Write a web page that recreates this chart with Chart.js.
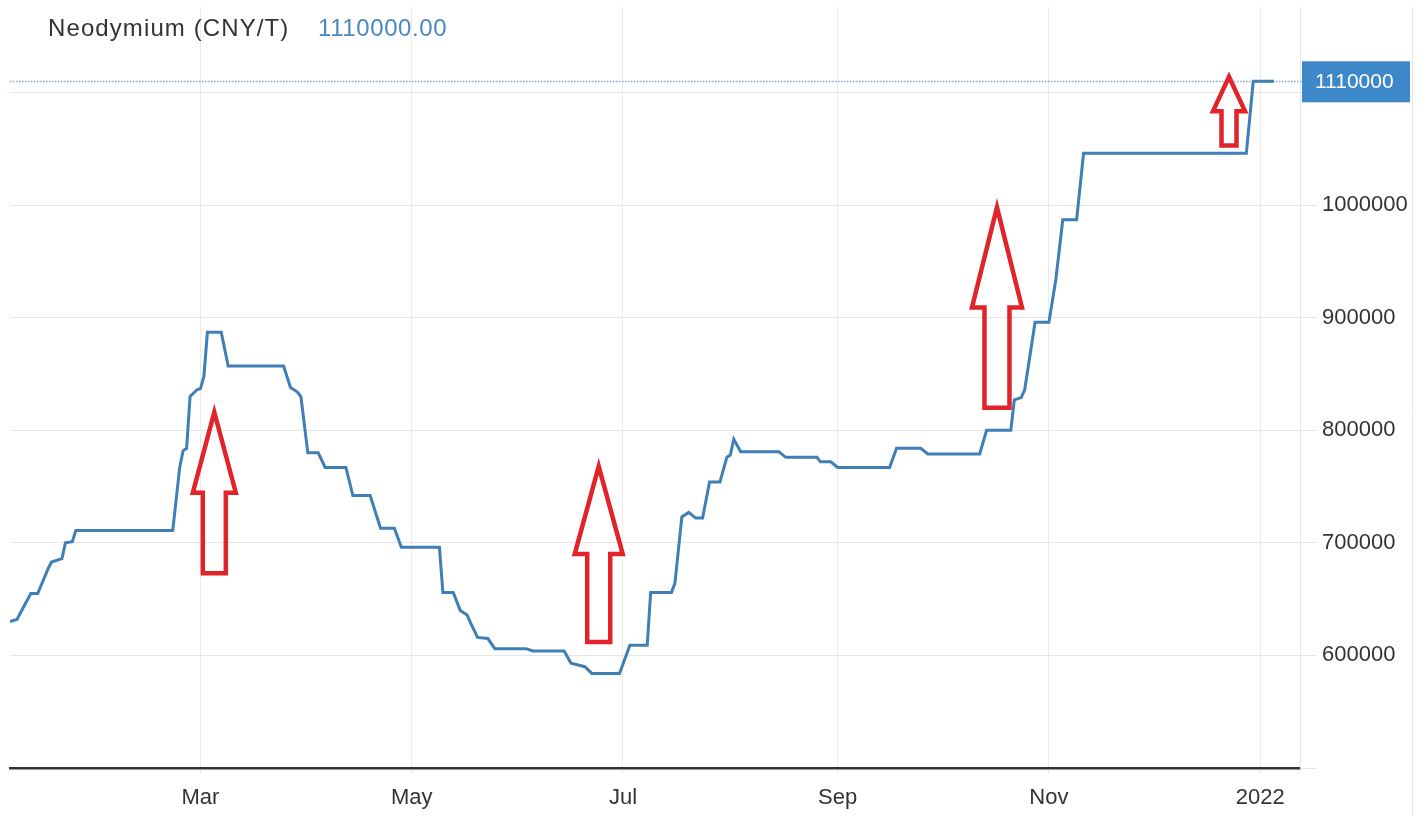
<!DOCTYPE html>
<html>
<head>
<meta charset="utf-8">
<title>Neodymium (CNY/T)</title>
<script src="https://cdn.jsdelivr.net/npm/chart.js@4.4.1/dist/chart.umd.min.js"></script>
<style>
  html, body { margin: 0; padding: 0; background: #fff; }
  #wrap { position: relative; width: 1425px; height: 816px; overflow: hidden; }
  #chart { position: absolute; left: 0; top: 0; }
  .head { position: absolute; top: 16px; font: 24px Arial, "Liberation Sans", sans-serif; line-height: 24px; white-space: nowrap; }
  #name { left: 48px; color: #333; letter-spacing: 1.1px; }
  #last { left: 318px; color: #4a89bf; letter-spacing: 0.6px; }
</style>
</head>
<body>
<div id="wrap">
  <canvas id="chart" width="1425" height="816"></canvas>
  <div class="head" id="name">Neodymium (CNY/T)</div>
  <div class="head" id="last">1110000.00</div>
</div>
<script>
// Neodymium price, CNY/T
const dates = [
  '2021-01-05', '2021-01-07', '2021-01-11', '2021-01-13', '2021-01-16', '2021-01-17',
  '2021-01-20', '2021-01-21', '2021-01-23', '2021-01-24', '2021-02-21', '2021-02-23',
  '2021-02-24', '2021-02-25', '2021-02-26', '2021-02-28', '2021-03-01', '2021-03-02',
  '2021-03-03', '2021-03-07', '2021-03-09', '2021-03-25', '2021-03-27', '2021-03-29',
  '2021-03-30', '2021-04-01', '2021-04-04', '2021-04-06', '2021-04-12', '2021-04-14',
  '2021-04-19', '2021-04-22', '2021-04-26', '2021-04-28', '2021-05-09', '2021-05-10',
  '2021-05-13', '2021-05-15', '2021-05-17', '2021-05-18', '2021-05-20', '2021-05-23',
  '2021-05-25', '2021-06-03', '2021-06-05', '2021-06-14', '2021-06-16', '2021-06-20',
  '2021-06-22', '2021-06-30', '2021-07-03', '2021-07-08', '2021-07-09', '2021-07-15',
  '2021-07-16', '2021-07-18', '2021-07-20', '2021-07-22', '2021-07-24', '2021-07-26',
  '2021-07-29', '2021-07-31', '2021-08-01', '2021-08-02', '2021-08-04', '2021-08-15',
  '2021-08-17', '2021-08-26', '2021-08-27', '2021-08-30', '2021-09-01', '2021-09-16',
  '2021-09-18', '2021-09-25', '2021-09-27', '2021-10-12', '2021-10-14', '2021-10-21',
  '2021-10-22', '2021-10-24', '2021-10-25', '2021-10-28', '2021-11-01', '2021-11-03',
  '2021-11-05', '2021-11-09', '2021-11-11', '2021-12-28', '2021-12-30', '2022-01-05'
];
const prices = [
  630000, 632000, 655000, 655000, 677000, 683000,
  686000, 700000, 701000, 711000, 711000, 767000,
  782000, 784000, 830000, 836000, 837000, 848000,
  887000, 887000, 857000, 857000, 838000, 834000,
  830000, 780000, 780000, 767000, 767000, 742000,
  742000, 713000, 713000, 696000, 696000, 656000,
  656000, 640000, 636000, 629000, 616000, 615000,
  606000, 606000, 604000, 604000, 593000, 590000,
  584000, 584000, 609000, 609000, 656000, 656000,
  664000, 723000, 727000, 722000, 722000, 754000,
  754000, 776000, 778000, 792000, 781000, 781000,
  776000, 776000, 772000, 772000, 767000, 767000,
  784000, 784000, 779000, 779000, 800000, 800000,
  827000, 829000, 836000, 896000, 896000, 934000,
  987000, 987000, 1046000, 1046000, 1110000, 1110000
];
const lastPrice = 1110000;

// axis ticks
const tickDates = ['2021-03-01', '2021-05-01', '2021-07-01', '2021-09-01', '2021-11-01', '2022-01-01'];
const tickLabels = ['Mar', 'May', 'Jul', 'Sep', 'Nov', '2022'];
const yTicks = [500000, 600000, 700000, 800000, 900000, 1000000, 1100000];
const yLabels = ['', '600000', '700000', '800000', '900000', '1000000', ''];

// red arrows drawn on the chart
const arrowDates = ['2021-03-05', '2021-06-24', '2021-10-17', '2021-12-23'];
const arrowTips = [816000, 768000, 998000, 1114000];
const arrowTails = [673000, 612000, 820000, 1053000];

const FONT = 'Arial, "Liberation Sans", sans-serif';
const GRID = '#e6e6e6';

// days since 2021-01-01
function dayOf(s) {
  const p = s.split('-').map(Number);
  return (Date.UTC(p[0], p[1] - 1, p[2]) - Date.UTC(2021, 0, 1)) / 864e5;
}

const points = dates.map((d, i) => ({ x: dayOf(d), y: prices[i] }));

// extra drawing: frame line, last price marker, arrows
const overlay = {
  id: 'overlay',
  beforeDraw(chart) {
    const ctx = chart.ctx;
    ctx.save();
    ctx.strokeStyle = GRID;
    ctx.lineWidth = 1;
    ctx.beginPath();
    ctx.moveTo(chart.width - 12.5, chart.chartArea.top);
    ctx.lineTo(chart.width - 12.5, chart.height);
    ctx.stroke();
    ctx.restore();
  },
  beforeDatasetsDraw(chart) {
    const { ctx, chartArea, scales } = chart;
    const y = Math.round(scales.y.getPixelForValue(lastPrice)) + 0.5;
    ctx.save();
    ctx.strokeStyle = '#86abcf';
    ctx.lineWidth = 1.5;
    ctx.setLineDash([1.5, 1.5]);
    ctx.beginPath();
    ctx.moveTo(chartArea.left, y);
    ctx.lineTo(chartArea.right + 2, y);
    ctx.stroke();
    ctx.restore();
  },
  afterDatasetsDraw(chart) {
    const { ctx, scales } = chart;
    const headW = [43, 48, 50, 32];
    const shaftW = [23, 23, 25, 15];
    ctx.save();
    ctx.strokeStyle = '#e1232a';
    ctx.lineWidth = 4.5;
    ctx.lineJoin = 'miter';
    arrowDates.forEach((d, i) => {
      const cx = scales.x.getPixelForValue(dayOf(d));
      const yt = scales.y.getPixelForValue(arrowTips[i]);
      const yb = scales.y.getPixelForValue(arrowTails[i]);
      const ym = yt + (yb - yt) * 0.5;
      const h = headW[i] / 2, s = shaftW[i] / 2;
      ctx.beginPath();
      ctx.moveTo(cx, yt);
      ctx.lineTo(cx + h, ym);
      ctx.lineTo(cx + s, ym);
      ctx.lineTo(cx + s, yb);
      ctx.lineTo(cx - s, yb);
      ctx.lineTo(cx - s, ym);
      ctx.lineTo(cx - h, ym);
      ctx.closePath();
      ctx.stroke();
    });
    ctx.restore();
  },
  afterDraw(chart) {
    const { ctx, chartArea, scales } = chart;
    const y = scales.y.getPixelForValue(lastPrice);
    const x0 = chartArea.right + 2;
    ctx.save();
    ctx.fillStyle = '#3d88c8';
    ctx.fillRect(x0, y - 20, 108, 41);
    ctx.fillStyle = '#fff';
    ctx.font = '21px ' + FONT;
    ctx.textAlign = 'left';
    ctx.textBaseline = 'middle';
    ctx.fillText(String(lastPrice), x0 + 13, y + 1);
    ctx.restore();
  }
};

new Chart(document.getElementById('chart'), {
  type: 'line',
  data: {
    datasets: [{
      data: points,
      borderColor: '#3f7fb6',
      borderWidth: 3,
      pointRadius: 0,
      tension: 0,
      fill: false
    }]
  },
  options: {
    responsive: false,
    animation: false,
    events: [],
    layout: { padding: { top: 7, left: 10, right: 0, bottom: 0 } },
    plugins: { legend: { display: false }, tooltip: { enabled: false } },
    scales: {
      x: {
        type: 'linear',
        min: 4,
        max: 376.5,
        afterBuildTicks: s => { s.ticks = tickDates.map(d => ({ value: dayOf(d) })); },
        afterFit: s => { s.height = 48; s.paddingLeft = 0; s.paddingRight = 0; },
        ticks: {
          autoSkip: false,
          maxRotation: 0,
          padding: 11,
          color: '#333',
          font: { family: FONT, size: 22 },
          callback: (v, i) => tickLabels[i]
        },
        grid: { color: '#ebebeb', tickLength: 6, tickColor: '#ebebeb' },
        border: { color: '#333', width: 2.5 }
      },
      y: {
        position: 'right',
        min: 500000,
        max: 1176000,
        afterBuildTicks: s => { s.ticks = yTicks.map(v => ({ value: v })); },
        afterFit: s => { s.width = 125; s.paddingTop = 0; s.paddingBottom = 0; },
        ticks: {
          padding: 5,
          color: '#333',
          font: { family: FONT, size: 22 },
          callback: (v, i) => yLabels[i]
        },
        grid: { color: GRID, tickLength: 17, tickColor: GRID },
        border: { color: GRID, width: 1 }
      }
    }
  },
  plugins: [overlay]
});
</script>
</body>
</html>
